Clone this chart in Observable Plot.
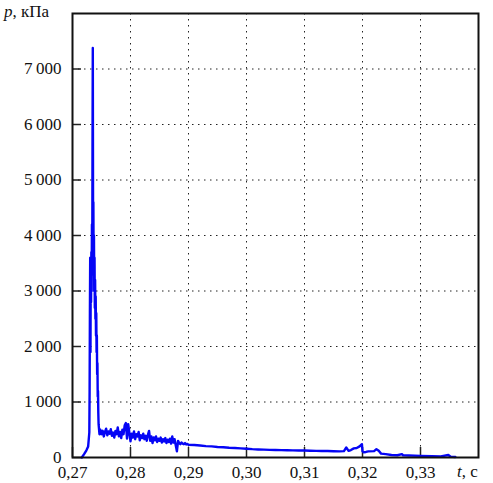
<!DOCTYPE html>
<html><head><meta charset="utf-8">
<script src="https://cdn.jsdelivr.net/npm/d3@7"></script>
<script src="https://cdn.jsdelivr.net/npm/@observablehq/plot@0.6"></script>
<style>
body{margin:0;background:#fff}
#chart{position:relative;width:493px;height:483px}
#chart svg, #chart svg text{font-family:"Liberation Serif","DejaVu Serif",serif !important;}
</style>
</head><body><div id="chart"></div>
<script>
// Tick values and labels
const xTicks = [0.27, 0.28, 0.29, 0.30, 0.31, 0.32, 0.33];
const xTickLabels = ["0,27", "0,28", "0,29", "0,30", "0,31", "0,32", "0,33"];
const yTicks = [0, 1000, 2000, 3000, 4000, 5000, 6000, 7000];
const yTickLabels = ["0", "1\u2009000", "2\u2009000", "3\u2009000", "4\u2009000", "5\u2009000", "6\u2009000", "7\u2009000"];

// Rise and main pressure spike (t in s, p in kPa)
const spikeT = [0.2716, 0.2720, 0.2724, 0.2727, 0.2729, 0.27295, 0.2730, 0.27305, 0.2731, 0.27315,
  0.2732, 0.27325, 0.2733, 0.27335, 0.2734, 0.27345, 0.2735, 0.27355, 0.2736, 0.27365,
  0.2737, 0.27375, 0.2738, 0.27385, 0.2739, 0.27395, 0.2740, 0.27405, 0.2741, 0.27415,
  0.2742, 0.27425, 0.2743, 0.27435, 0.2744, 0.27445, 0.2745, 0.27465];
const spikeP = [0, 60, 130, 200, 450, 1200, 2600, 3600, 1900, 3500,
  2800, 3700, 3000, 4200, 3300, 5600, 7380, 4200, 4600, 3300,
  4000, 3000, 3600, 2700, 3200, 2500, 2900, 2200, 2600, 1900,
  2200, 1500, 1700, 1100, 1200, 800, 600, 420];

// Noisy plateau, sampled every 0.0002 s from 0.2748 s
const noiseStart = 0.2748, noiseStep = 0.0002;
const noiseP = [500, 420, 480, 380, 460, 520, 400, 470, 430, 510,
  390, 450, 360, 480, 420, 540, 380, 460, 350, 500,
  420, 580, 620, 340, 600, 450, 290, 430, 360, 470,
  330, 420, 380, 460, 310, 400, 350, 430, 330, 390,
  300, 410, 480, 300, 380, 260, 360, 310, 380, 280,
  340, 300, 360, 270, 330, 290, 350, 260, 320, 280,
  340, 250, 380, 270, 330, 220, 110, 300, 260, 240,
  270, 250, 240, 260, 235, 245, 230];

// Decaying tail
const tailT = [0.291, 0.292, 0.293, 0.294, 0.295, 0.296, 0.297, 0.298, 0.299, 0.300,
  0.301, 0.302, 0.303, 0.304, 0.305, 0.306, 0.307, 0.308, 0.309, 0.310,
  0.311, 0.312, 0.313, 0.314, 0.315, 0.316, 0.3168, 0.3172, 0.3176, 0.318,
  0.3185, 0.3190, 0.3195, 0.3199, 0.3200, 0.3202, 0.3206, 0.3210, 0.3220, 0.3224,
  0.3228, 0.3232, 0.3240, 0.3250, 0.3260, 0.3268, 0.3270, 0.3280, 0.3300, 0.3320,
  0.3335, 0.3348, 0.3352, 0.3360];
const tailP = [225, 215, 205, 200, 190, 185, 175, 170, 165, 158,
  150, 145, 142, 138, 135, 132, 130, 128, 126, 125,
  122, 120, 118, 116, 112, 110, 115, 180, 120, 135,
  165, 170, 200, 240, 110, 95, 100, 110, 115, 150,
  120, 70, 60, 45, 40, 60, 38, 35, 30, 25,
  20, 45, 15, 10];

const data = [];
spikeT.forEach((t, i) => data.push({t, p: spikeP[i]}));
noiseP.forEach((p, i) => data.push({t: noiseStart + i * noiseStep, p}));
tailT.forEach((t, i) => data.push({t, p: tailP[i]}));

const font = "Liberation Serif, DejaVu Serif, serif";
const xFmt = d => xTickLabels[xTicks.findIndex(v => Math.abs(v - d) < 1e-9)];
const yFmt = d => yTickLabels[yTicks.indexOf(d)];
const blank = () => "";
const grid = {stroke: "#222", strokeOpacity: 1, strokeWidth: 1, strokeDasharray: "1.5,4.5"};

const chart = Plot.plot({
  width: 493, height: 483,
  marginLeft: 72, marginRight: 15, marginTop: 13, marginBottom: 26,
  style: {fontFamily: font, fontSize: "17px", color: "#111", background: "#fff", overflow: "visible"},
  x: {domain: [0.27, 0.34]},
  y: {domain: [0, 8000]},
  marks: [
    Plot.gridX(xTicks, grid),
    Plot.gridY(yTicks, grid),
    Plot.axisY(yTicks, {tickSize: 9, dx: 9, tickFormat: blank, label: null, stroke: "#222", strokeWidth: 1.5}),
    Plot.axisX(xTicks, {tickSize: 10, dy: -10, tickFormat: blank, label: null, stroke: "#222", strokeWidth: 1.5}),
    Plot.axisY(yTicks, {tickSize: 0, tickPadding: 11, tickFormat: yFmt, label: null}),
    Plot.axisX(xTicks, {tickSize: 0, tickPadding: 8, tickFormat: xFmt, label: null}),
    Plot.line(data, {x: "t", y: "p", stroke: "#0505f5", strokeWidth: 2.4}),
    Plot.frame({stroke: "#111", strokeWidth: 2})
  ]
});
document.getElementById("chart").appendChild(chart);

const svg = d3.select(chart);
const yt = svg.append("text").attr("x", 4).attr("y", 17).attr("text-anchor", "start")
  .style("font-size", "17px").attr("fill", "#111");
yt.append("tspan").style("font-style", "italic").text("p");
yt.append("tspan").text(", кПа");
const xt = svg.append("text").attr("x", 457).attr("y", 477).attr("text-anchor", "start")
  .style("font-size", "17px").attr("fill", "#111");
xt.append("tspan").style("font-style", "italic").text("t");
xt.append("tspan").text(", c");
</script>
</body></html>
